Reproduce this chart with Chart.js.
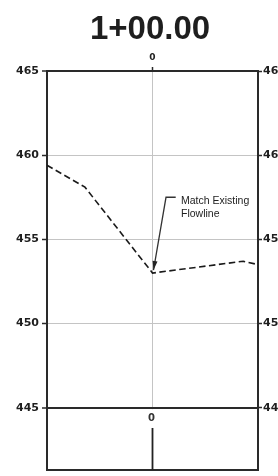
<!DOCTYPE html>
<html>
<head>
<meta charset="utf-8">
<script src="https://cdn.jsdelivr.net/npm/chart.js@4/dist/chart.umd.min.js"></script>
<style>
html,body{margin:0;padding:0;background:#fff;overflow:hidden;}
#wrap{width:278px;height:476px;overflow:hidden;position:relative;}
canvas{display:block;}
</style>
</head>
<body>
<div id="wrap"><canvas id="c" width="300" height="476"></canvas></div>
<script>
// ---- data ----
const sectionTitle = '1+00.00';
const offsets = [-50, -32, 0, 43, 50];
const elevations = [459.4, 458.1, 453.0, 453.7, 453.5];
const elevationTicks = [445, 450, 455, 460, 465];
const offsetTicks = [0];
const centerStem = [443.8, 441.3];
const calloutLines = ['Match Existing', 'Flowline'];

// ---- layout ----
const X_MIN = -50, X_MAX = 50, Y_MIN = 441.3, Y_MAX = 465;
const DARK = '#2a2a2a', GRID = '#c4c4c4';
const labelFont = {family: '"DejaVu Sans", sans-serif', size: 11, weight: 'bold'};

const groundData = offsets.map((x, i) => ({x: x, y: elevations[i]}));
const stemData = centerStem.map(y => ({x: 0, y: y}));
const tickObjs = arr => arr.map(v => ({value: v}));
const noPad = s => { s.paddingTop = 0; s.paddingBottom = 0; s.paddingLeft = 0; s.paddingRight = 0; };

const callout = {anchor: [0, 453.0], elbow: [6.4, 457.5], end: [11, 457.5], text: [13.5, 457.3]};

const annotPlugin = {
  id: 'annot',
  afterDatasetsDraw(chart) {
    const ctx = chart.ctx, xs = chart.scales.x, ys = chart.scales.y;
    const px = v => xs.getPixelForValue(v), py = v => ys.getPixelForValue(v);
    ctx.save();
    // callout leader
    const ax = px(callout.anchor[0]) + 1, ay = py(callout.anchor[1]) - 3;
    const ex = px(callout.elbow[0]), ey = py(callout.elbow[1]);
    ctx.strokeStyle = '#333'; ctx.lineWidth = 1.3;
    ctx.beginPath(); ctx.moveTo(ax, ay); ctx.lineTo(ex, ey); ctx.lineTo(px(callout.end[0]), py(callout.end[1])); ctx.stroke();
    // arrowhead
    const ang = Math.atan2(ay - ey, ax - ex);
    ctx.fillStyle = '#222';
    ctx.beginPath();
    ctx.moveTo(ax, ay);
    ctx.lineTo(ax - 9 * Math.cos(ang) + 2.5 * Math.sin(ang), ay - 9 * Math.sin(ang) - 2.5 * Math.cos(ang));
    ctx.lineTo(ax - 9 * Math.cos(ang) - 2.5 * Math.sin(ang), ay - 9 * Math.sin(ang) + 2.5 * Math.cos(ang));
    ctx.closePath(); ctx.fill();
    // callout text
    ctx.fillStyle = '#222';
    ctx.font = '10.5px "Liberation Sans", Arial, sans-serif';
    ctx.textAlign = 'left'; ctx.textBaseline = 'middle';
    const tx = px(callout.text[0]), ty = py(callout.text[1]);
    calloutLines.forEach((t, i) => ctx.fillText(t, tx, ty + i * 13));
    // bottom "0" label with white gap in grid line
    const bx = px(0), top = py(445) + 1.5, bot = py(centerStem[0]);
    ctx.fillStyle = '#fff'; ctx.fillRect(bx - 2, top, 4, bot - top);
    ctx.fillStyle = '#333';
    ctx.font = 'bold 10px "DejaVu Sans", sans-serif';
    ctx.textAlign = 'center';
    ctx.fillText(String(offsetTicks[0]), bx - 1, (top + bot) / 2);
    ctx.restore();
  }
};

new Chart(document.getElementById('c'), {
  type: 'line',
  data: {
    datasets: [
      {data: groundData, borderColor: '#1a1a1a', borderWidth: 1.6, borderDash: [6.5, 3.5], pointRadius: 0, tension: 0, xAxisID: 'x', yAxisID: 'y'},
      {data: stemData, borderColor: '#222', borderWidth: 1.8, pointRadius: 0, xAxisID: 'x', yAxisID: 'y'}
    ]
  },
  options: {
    responsive: false, animation: false, devicePixelRatio: 1,
    layout: {padding: {top: 0, bottom: 6, left: 0, right: 0}},
    plugins: {
      legend: {display: false}, tooltip: {enabled: false},
      title: {display: true, text: sectionTitle, color: '#1e1e1e', padding: {top: 10, bottom: 0},
        font: {family: '"Liberation Sans", Arial, sans-serif', size: 33, weight: 'bold', lineHeight: 1.2}}
    },
    scales: {
      x: {type: 'linear', position: 'bottom', min: X_MIN, max: X_MAX,
        grid: {color: 'rgba(0,0,0,0)', drawTicks: false},
        ticks: {display: false},
        border: {display: true, color: DARK, width: 2},
        afterFit(s) { s.height = 0; noPad(s); }
      },
      x2: {type: 'linear', position: 'top', min: X_MIN, max: X_MAX,
        afterBuildTicks(s) { s.ticks = tickObjs(offsetTicks); },
        grid: {color: GRID, lineWidth: 1, tickColor: DARK, tickLength: 4, tickWidth: 1.5},
        ticks: {color: '#222', font: {family: '"DejaVu Sans", sans-serif', size: 9, weight: 'bold'}, padding: 4, maxRotation: 0},
        border: {display: true, color: DARK, width: 2},
        afterFit(s) { s.height = 21.4; noPad(s); }
      },
      y: {type: 'linear', position: 'left', min: Y_MIN, max: Y_MAX,
        afterBuildTicks(s) { s.ticks = tickObjs(elevationTicks); },
        grid: {
          color: c => (c.tick && (c.tick.value === 445 || c.tick.value === 465)) ? DARK : GRID,
          lineWidth: c => (c.tick && (c.tick.value === 445 || c.tick.value === 465)) ? 2 : 1,
          tickColor: DARK, tickLength: 5, tickWidth: 1.5
        },
        ticks: {color: '#1e1e1e', font: labelFont, padding: 3},
        border: {display: true, color: DARK, width: 2},
        afterFit(s) { s.width = 47; noPad(s); }
      },
      y2: {type: 'linear', position: 'right', min: Y_MIN, max: Y_MAX,
        afterBuildTicks(s) { s.ticks = tickObjs(elevationTicks); },
        grid: {drawOnChartArea: false, tickColor: DARK, tickLength: 4, tickWidth: 1.5},
        ticks: {color: '#1e1e1e', font: labelFont, padding: 1},
        border: {display: true, color: DARK, width: 2},
        afterFit(s) { s.width = 42; noPad(s); }
      }
    }
  },
  plugins: [annotPlugin]
});
</script>
</body>
</html>
